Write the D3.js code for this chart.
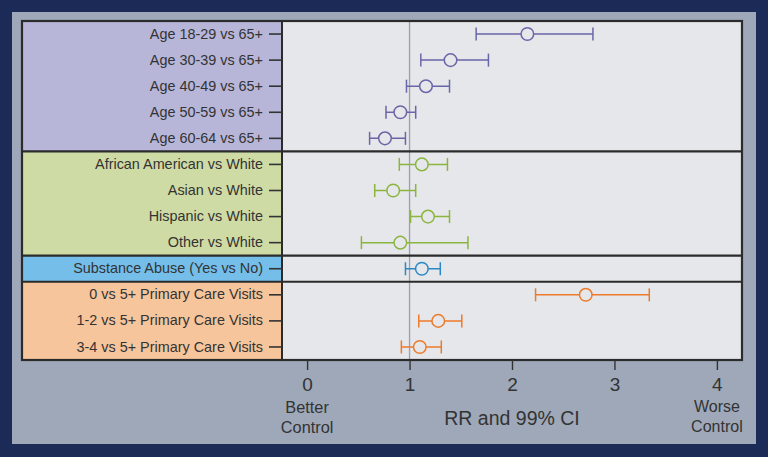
<!DOCTYPE html>
<html>
<head>
<meta charset="utf-8">
<script src="https://cdn.jsdelivr.net/npm/d3@7"></script>
<style>
  html, body { margin: 0; padding: 0; background: #1b2a57; }
  svg { display: block; font-family: "Liberation Sans", Arial, sans-serif; }
</style>
</head>
<body>
<div id="wrap"></div>
<script>
// rows, top to bottom
var labels = [
  "Age 18-29 vs 65+", "Age 30-39 vs 65+", "Age 40-49 vs 65+", "Age 50-59 vs 65+", "Age 60-64 vs 65+",
  "African American vs White", "Asian vs White", "Hispanic vs White", "Other vs White",
  "Substance Abuse (Yes vs No)",
  "0 vs 5+ Primary Care Visits", "1-2 vs 5+ Primary Care Visits", "3-4 vs 5+ Primary Care Visits"
];
var group = [0,0,0,0,0, 1,1,1,1, 2, 3,3,3];
var rr = [2.15, 1.40, 1.16, 0.91, 0.76, 1.12, 0.84, 1.18, 0.91, 1.12, 2.72, 1.28, 1.10];
var lo = [1.65, 1.11, 0.97, 0.77, 0.61, 0.90, 0.66, 1.01, 0.53, 0.96, 2.23, 1.09, 0.92];
var hi = [2.79, 1.77, 1.39, 1.06, 0.96, 1.37, 1.06, 1.39, 1.57, 1.30, 3.34, 1.51, 1.31];
var xTicks = [0, 1, 2, 3, 4];

var bandFill = ["#b7b6d9", "#cfdba5", "#74bee9", "#f7c59c"];
var markColor = ["#6966a8", "#8cb540", "#2b88c4", "#ec7a2b"];

var W = 768, H = 457;
var boxL = 22, boxR = 742, boxT = 21, boxB = 360, split = 282;

var svg = d3.select('#wrap')
  .append('svg')
  .attr("width", W)
  .attr("height", H);

svg.append("rect").attr("width", W).attr("height", H).attr("fill", "#1b2a57");
svg.append("rect")
  .attr("x", 12).attr("y", 12).attr("width", 744).attr("height", 432)
  .attr("fill", "#9ea8b9");

var x = d3.scaleLinear().domain([-0.245, 4.245]).range([split, boxR]);
var y = d3.scaleBand().domain(labels).range([boxT, boxB]);

var rows = labels.map(function (l, i) {
  return { label: l, g: group[i], rr: rr[i], lo: lo[i], hi: hi[i] };
});

// group extents
var groups = d3.groups(rows, function (d) { return d.g; }).map(function (e) {
  return { g: e[0], y0: y(e[1][0].label), y1: y(e[1][e[1].length - 1].label) + y.bandwidth() };
});

// label side fills
svg.selectAll("rect.band").data(groups).enter().append("rect")
  .attr("x", boxL).attr("y", function (d) { return d.y0; })
  .attr("width", split - boxL).attr("height", function (d) { return d.y1 - d.y0; })
  .attr("fill", function (d) { return bandFill[d.g]; });

// plot area
svg.append("rect")
  .attr("x", split).attr("y", boxT).attr("width", boxR - split).attr("height", boxB - boxT)
  .attr("fill", "#e6e7ea");

// reference line at 1
svg.append("line")
  .attr("x1", x(1)).attr("x2", x(1)).attr("y1", boxT).attr("y2", boxB)
  .attr("stroke", "#9aa0b0").attr("stroke-width", 1.3);

// group separators
svg.selectAll("line.sep").data(groups.slice(1)).enter().append("line")
  .attr("x1", boxL).attr("x2", boxR)
  .attr("y1", function (d) { return d.y0; }).attr("y2", function (d) { return d.y0; })
  .attr("stroke", "#2b2b2b").attr("stroke-width", 2.2);

svg.append("line")
  .attr("x1", split).attr("x2", split).attr("y1", boxT).attr("y2", boxB)
  .attr("stroke", "#2b2b2b").attr("stroke-width", 2);

svg.append("rect")
  .attr("x", boxL).attr("y", boxT).attr("width", boxR - boxL).attr("height", boxB - boxT)
  .attr("fill", "none").attr("stroke", "#2b2b2b").attr("stroke-width", 2.2);

// row labels + ticks
var yAxis = svg.append("g")
  .attr("transform", "translate(" + split + ",0)")
  .call(d3.axisLeft(y).tickSize(13).tickPadding(6));
yAxis.attr("font-size", null).attr("font-family", null);
yAxis.select(".domain").remove();
yAxis.selectAll(".tick line").attr("stroke", "#333").attr("stroke-width", 1.6);
yAxis.selectAll(".tick text").attr("fill", "#333").style("font-size", "14.4px");

// CI marks
var m = svg.append("g").selectAll("g").data(rows).enter().append("g")
  .attr("transform", function (d) { return "translate(0," + (y(d.label) + y.bandwidth() / 2) + ")"; })
  .attr("stroke", function (d) { return markColor[d.g]; })
  .attr("stroke-width", 1.5)
  .attr("fill", "none");
m.append("line").attr("x1", function (d) { return x(d.lo); }).attr("x2", function (d) { return x(d.hi); });
m.append("line").attr("x1", function (d) { return x(d.lo); }).attr("x2", function (d) { return x(d.lo); })
  .attr("y1", -6.5).attr("y2", 6.5);
m.append("line").attr("x1", function (d) { return x(d.hi); }).attr("x2", function (d) { return x(d.hi); })
  .attr("y1", -6.5).attr("y2", 6.5);
m.append("circle").attr("cx", function (d) { return x(d.rr); }).attr("r", 6.3).attr("fill", "#e6e7ea");

// x axis
var xAxis = svg.append("g")
  .attr("transform", "translate(0," + boxB + ")")
  .call(d3.axisBottom(x).tickValues(xTicks).tickSize(10).tickPadding(8).tickFormat(d3.format("d")));
xAxis.attr("font-size", null).attr("font-family", null);
xAxis.select(".domain").remove();
xAxis.selectAll(".tick line").attr("stroke", "#333").attr("stroke-width", 1.4);
xAxis.selectAll(".tick text").attr("fill", "#333").style("font-size", "19px");

svg.append("text").attr("x", x(2)).attr("y", 425).attr("text-anchor", "middle")
  .style("font-size", "19.5px").attr("fill", "#333").text("RR and 99% CI");

var better = svg.append("text").attr("text-anchor", "middle").attr("fill", "#333").style("font-size", "16.3px");
better.append("tspan").attr("x", x(0)).attr("y", 413).text("Better");
better.append("tspan").attr("x", x(0)).attr("y", 433).text("Control");

var worse = svg.append("text").attr("text-anchor", "middle").attr("fill", "#333").style("font-size", "16px");
worse.append("tspan").attr("x", x(4)).attr("y", 412).text("Worse");
worse.append("tspan").attr("x", x(4)).attr("y", 432).text("Control");
</script>
</body>
</html>
